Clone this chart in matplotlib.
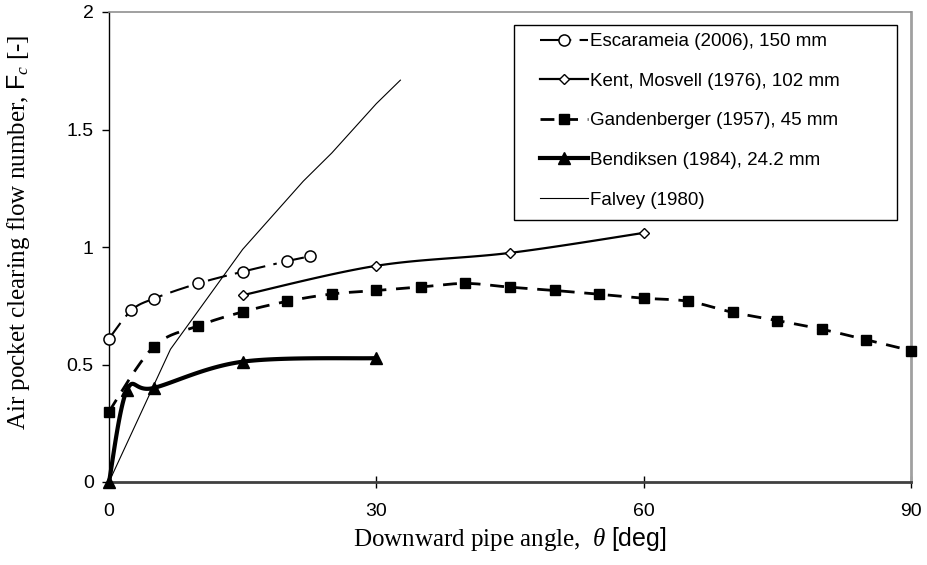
import numpy as np
import matplotlib
matplotlib.use("Agg")
import matplotlib.pyplot as plt
from matplotlib.patches import Rectangle

# data
esc_x = [0, 2.5, 5, 10, 15, 20, 22.5]
esc_y = [0.61, 0.73, 0.78, 0.845, 0.895, 0.94, 0.96]

kent_x = [15, 30, 45, 60]
kent_y = [0.795, 0.92, 0.975, 1.06]

gand_x = [0, 5, 10, 15, 20, 25, 30, 35, 40, 45, 50, 55, 60, 65, 70, 75, 80, 85, 90]
gand_y = [0.30, 0.575, 0.664, 0.724, 0.769, 0.80, 0.815, 0.83, 0.845, 0.829,
          0.815, 0.799, 0.782, 0.769, 0.722, 0.687, 0.65, 0.605, 0.559]

bend_x = [0, 2, 5, 15, 30]
bend_y = [0, 0.39, 0.40, 0.512, 0.527]

falvey_x = [0, 6.9, 15, 21.8, 25, 30, 32.7]
falvey_y = [0, 0.565, 0.99, 1.28, 1.40, 1.61, 1.71]

labels = ["Escarameia (2006), 150 mm", "Kent, Mosvell (1976), 102 mm",
          "Gandenberger (1957), 45 mm", "Bendiksen (1984), 24.2 mm", "Falvey (1980)"]

x_ticks = [0, 30, 60, 90]
y_ticks = [0, 0.5, 1, 1.5, 2]
y_tick_labels = ["0", "0.5", "1", "1.5", "2"]


def smooth(x, y, n=30):
    # Excel-style smoothed line: cubic bezier through the points
    p = np.column_stack([x, y]).astype(float)
    segs = []
    for i in range(len(p) - 1):
        p0 = p[max(i - 1, 0)]
        p1 = p[i]
        p2 = p[i + 1]
        p3 = p[min(i + 2, len(p) - 1)]
        c1 = p1 + (p2 - p0) / 6
        c2 = p2 - (p3 - p1) / 6
        t = np.linspace(0, 1, n, endpoint=False)[:, None]
        segs.append((1 - t)**3 * p1 + 3 * (1 - t)**2 * t * c1 + 3 * (1 - t) * t**2 * c2 + t**3 * p2)
    segs.append(p[-1:])
    out = np.vstack(segs)
    return out[:, 0], out[:, 1], list(range(0, len(out), n))


plt.rcParams['lines.scale_dashes'] = False
plt.rcParams['mathtext.fontset'] = 'custom'
plt.rcParams['mathtext.rm'] = 'Liberation Serif'
plt.rcParams['mathtext.it'] = 'Liberation Serif:italic'
plt.rcParams['mathtext.sf'] = 'Liberation Sans'

W, H = 927, 565
x0, x1, y0, y1 = 109, 911, 482, 12   # axes box in pixels
fig = plt.figure(figsize=(W / 100, H / 100), dpi=100)
ax = fig.add_axes([x0 / W, 1 - y0 / H, (x1 - x0) / W, (y0 - y1) / H])


def ax_frac(px, py):
    return (px - x0) / (x1 - x0), (y0 - py) / (y0 - y1)


ax.plot(falvey_x, falvey_y, color='black', lw=0.8, label=labels[4], clip_on=False, zorder=2)

sx, sy, idx = smooth(esc_x, esc_y)
ax.plot(sx, sy, color='black', lw=1.5, dashes=(14, 6, 2.5, 6), marker='o', markevery=idx,
        ms=8, mfc='white', mec='black', mew=1.1, label=labels[0], clip_on=False, zorder=4)

sx, sy, idx = smooth(kent_x, kent_y)
ax.plot(sx, sy, color='black', lw=1.6, ls='-', marker='D', markevery=idx,
        ms=5.5, mfc='white', mec='black', mew=1.0, label=labels[1], clip_on=False, zorder=4)

sx, sy, idx = smooth(gand_x, gand_y)
ax.plot(sx, sy, color='black', lw=2.0, dashes=(10, 7), marker='s', markevery=idx,
        ms=7, mfc='black', mec='black', label=labels[2], clip_on=False, zorder=3)

sx, sy, idx = smooth(bend_x, bend_y)
ax.plot(sx, sy, color='black', lw=3.0, ls='-', marker='^', markevery=idx,
        ms=8, mfc='black', mec='black', label=labels[3], clip_on=False, zorder=3)

ax.set_xlim(0, 90)
ax.set_ylim(0, 2)
ax.set_xticks(x_ticks)
ax.set_xticklabels([str(v) for v in x_ticks])
ax.set_yticks(y_ticks)
ax.set_yticklabels(y_tick_labels)
ax.tick_params(axis='both', labelsize=14, colors='black', width=1)
ax.tick_params(axis='y', direction='out', length=5, pad=6)
ax.tick_params(axis='x', direction='inout', length=8, pad=11)
for lab in ax.get_xticklabels() + ax.get_yticklabels():
    lab.set_family('Liberation Sans')

ax.spines['left'].set_color('black')
ax.spines['left'].set_linewidth(1.0)
ax.spines['bottom'].set_color('#404040')
ax.spines['bottom'].set_linewidth(2.0)
ax.spines['top'].set_color('#909090')
ax.spines['top'].set_linewidth(1.2)
ax.spines['right'].set_color('#a0a0a0')
ax.spines['right'].set_linewidth(2.0)

ax.set_ylabel(r"Air pocket clearing flow number, $\mathsf{F}_{c}$ [-]",
              family='Liberation Serif', fontsize=18)
ax.yaxis.set_label_coords(*ax_frac(32, 232))
ax.set_xlabel(r"Downward pipe angle,  $\theta$ $\mathsf{[deg]}$",
              family='Liberation Serif', fontsize=18, labelpad=4)

# legend frame drawn as a box, legend entries placed inside it
fx, fy = ax_frac(514, 220)
fx2, fy2 = ax_frac(897, 25)
ax.add_patch(Rectangle((fx, fy), fx2 - fx, fy2 - fy, transform=ax.transAxes,
                       facecolor='white', edgecolor='black', lw=1.0, zorder=9, clip_on=False))

handles, labs = ax.get_legend_handles_labels()
order = [labs.index(l) for l in labels]
leg = ax.legend([handles[i] for i in order], [labs[i] for i in order],
                loc='upper left', bbox_to_anchor=ax_frac(540, 33),
                prop={'family': 'Liberation Sans', 'size': 13.5}, frameon=False,
                handlelength=2.56, handletextpad=0.12, labelspacing=1.2,
                borderpad=0, borderaxespad=0, numpoints=1)
leg.set_zorder(10)

fig.savefig("out.png", dpi=100)
